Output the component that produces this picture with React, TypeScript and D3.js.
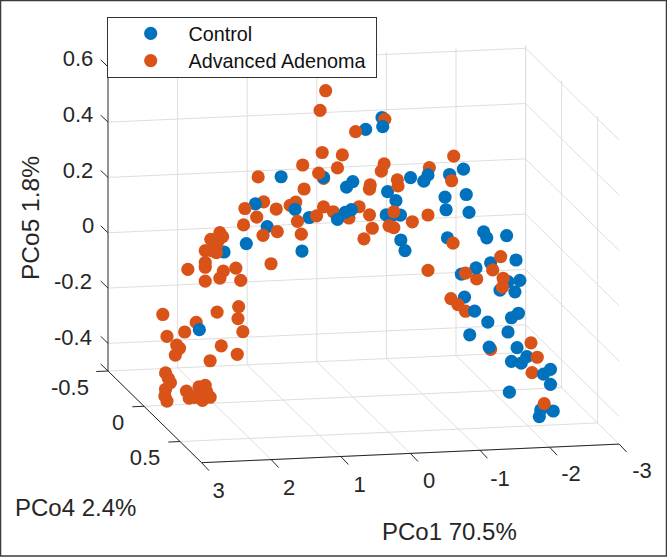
import React from "react";
import * as d3 from "d3";

// PCo1 / PCo5 values. A single projection hides PCo4, so
// every point is placed on the PCo4 = 0 plane; the layers keep the overlap order.
const controlRear: [number, number][] = [[-0.42, 0.506]];
const adenomaRear: [number, number][] = [
  [0.42, 0.295], [1.28, 0.22], [0.9, 0.203], [0.82, 0.214], [0.28, 0.173], [0.055, 0.148], [-0.09, 0.187],
  [-0.46, 0.499], [-1.1, 0.317], [-1.78, -0.093], [-1.62, -0.208], [-1.98, -0.35], [-2.575, -0.441], [2.25, -0.205],
];
const controlFront: [number, number][] = [
  [-0.185, 0.466], [-0.43, 0.473], [1.03, 0.308], [0.42, 0.299], [0, 0.279], [0.09, 0.26], [-0.5, 0.237],
  [1.4, 0.214], [0.83, 0.188], [1.23, 0.13], [1.53, 0.072], [0.73, 0.036], [0.625, 0.156], [0.22, 0.145],
  [0.11, 0.169], [0.02, 0.178], [-0.62, 0.203], [-0.48, 0.153], [-0.685, 0.15], [-0.58, 0.152], [-0.69, 0.06],
  [-0.75, 0.021], [-1.36, 0.06], [-1.325, 0.208], [-1.34, 0.162], [-1.63, 0.214], [-1.67, 0.149], [-1.56, -0.073],
  [-1.77, -0.053], [-1.605, -0.157], [-1.88, 0.076], [-1.925, 0.054], [-2.21, 0.059], [-1.59, 0.306], [-1.08, 0.291],
  [-1.02, 0.269], [-0.83, 0.284], [-1.39, 0.289], [-2.345, -0.031], [-1.98, -0.037], [-2.4, -0.105], [-2.23, -0.108],
  [-2.115, -0.137], [-2.33, -0.146], [-1.75, -0.209], [-2.38, -0.224], [-2.28, -0.239], [-1.94, -0.251], [-1.68, -0.294],
  [-2.23, -0.29], [-2.36, -0.348], [-1.96, -0.342], [-2.5, -0.382], [-2.28, -0.397], [-2.42, -0.405], [-2.84, -0.432],
  [-2.74, -0.448], [-2.84, -0.486], [-2.25, -0.508], [-2.7, -0.577], [-2.88, -0.583], [-2.68, -0.601], [1.85, 0.045],
  [2.205, -0.232],
];
const adenomaFront: [number, number][] = [
  [0.39, 0.612], [0.47, 0.542], [-0.04, 0.459], [0.44, 0.389], [0.15, 0.377], [0.72, 0.347], [0.22, 0.331], [0.49, 0.315],
  [1.36, 0.311], [-0.45, 0.338], [-0.41, 0.312], [-0.25, 0.264], [-0.24, 0.249], [0.7, 0.26], [1.55, 0.199], [1.1, 0.192],
  [1.38, 0.166], [1.57, 0.14], [1.29, 0.099], [1.085, 0.11], [0.795, 0.144], [0.74, 0.097], [1.175, -0.005], [0.42, 0.192],
  [0.52, 0.161], [-0.24, 0.156], [-0.28, 0.107], [-0.16, 0.07], [-0.52, 0.113], [-0.59, 0.106], [-0.59, 0.163], [-0.855, 0.124],
  [-1.08, 0.146], [-1.45, 0.355], [-1.42, 0.266], [-0.64, 0.278], [-0.65, 0.256], [-1.44, 0.04], [-1.08, -0.054], [-1.62, -0.07],
  [-1.41, -0.16], [-1.51, -0.183], [-2.125, -0.016], [-2.01, -0.063], [-2.16, -0.095], [-2.15, -0.127], [-2.56, -0.333],
  [-2.65, -0.386], [-2.75, -0.555],
  [1.91, 0.116], [1.87, 0.101], [2.04, 0.093], [1.93, 0.089], [2.12, 0.053], [1.955, 0.072], [2.03, 0.052], [1.96, 0.044],
  [2.37, -0.012], [2.12, 0.01], [2.12, -0.007], [2.12, -0.057], [1.86, -0.024], [1.91, -0.049], [1.68, -0.015], [1.61, -0.06],
  [2.73, -0.171], [1.95, -0.171], [1.64, -0.155], [1.65, -0.198], [2.415, -0.238], [2.67, -0.251], [1.58, -0.246], [2.53, -0.284],
  [2.49, -0.296], [2.55, -0.32], [1.89, -0.294], [1.66, -0.327], [2.05, -0.346], [2.69, -0.383], [2.65, -0.403], [2.62, -0.419],
  [2.69, -0.442], [2.7, -0.466], [2.67, -0.485], [2.39, -0.452], [2.35, -0.478], [2.12, -0.434], [2.21, -0.439], [2.2, -0.462],
  [2.27, -0.476], [2.16, -0.488], [2.05, -0.478], [2.1, -0.457],
];

const pco1Ticks = [3, 2, 1, 0, -1, -2, -3];
const pco4Ticks = [-0.5, 0, 0.5];
const pco5Ticks = [-0.4, -0.2, 0, 0.2, 0.4, 0.6];
const legendNames = ["Control", "Advanced Adenoma"];
const pco4Plane = 0;

const BLUE = "#0072BD";
const ORANGE = "#D95319";
const AXIS = "#262626";
const GRID = "#dedede";
const FONT = "'Liberation Sans', Arial, sans-serif";

// oblique projection of the 3-D box onto the page
const px = d3.scaleLinear().domain([3, -3]).range([0, 417.6]);
const pxY = d3.scaleLinear().domain([3, -3]).range([0, -18.6]);
const py = d3.scaleLinear().domain([-0.5, 0.8]).range([0, 93.6]);
const pyY = d3.scaleLinear().domain([-0.5, 0.8]).range([0, 91.7]);
const pz = d3.scaleLinear().domain([-0.5, 0.6]).range([0, -304.15]);
const project = (x: number, y: number, z: number): [number, number] => [
  108 + px(x) + py(y),
  371 + pxY(x) + pyY(y) + pz(z),
];

const X0 = 3, X1 = -3, Y0 = -0.5, Y1 = 0.8, Z0 = -0.5, Z1 = 0.61;
type L = [[number, number], [number, number]];
const seg = (l: L, stroke: string, key: string, w = 1) => (
  <line key={key} x1={l[0][0]} y1={l[0][1]} x2={l[1][0]} y2={l[1][1]} stroke={stroke} strokeWidth={w} />
);
const off = (p: [number, number], dx: number, dy: number): [number, number] => [p[0] + dx, p[1] + dy];

const gridLines: L[] = [
  ...pco1Ticks.map((x) => [project(x, Y0, Z0), project(x, Y1, Z0)] as L),
  ...pco1Ticks.map((x) => [project(x, Y0, Z0), project(x, Y0, Z1)] as L),
  ...[...pco4Ticks, Y1].map((y) => [project(X0, y, Z0), project(X1, y, Z0)] as L),
  ...pco4Ticks.map((y) => [project(X1, y, Z0), project(X1, y, Z1)] as L),
  ...pco5Ticks.map((z) => [project(X0, Y0, z), project(X1, Y0, z)] as L),
  ...pco5Ticks.map((z) => [project(X1, Y0, z), project(X1, Y1, z)] as L),
];

const xLabelPos: [number, number][] = [[218.5, 498], [289, 495], [359.5, 492], [429, 488], [500, 486], [571, 481], [642, 478]];
const yLabelPos: [number, number][] = [[70, 394.5], [118, 430], [145, 465]];
const zLabelPos: [number, number][] = [[73, 345], [73, 289], [88, 233], [78, 178], [78, 122], [78, 66]];

const dots = (pts: [number, number][], fill: string, key: string) =>
  pts.map(([a, b], i) => {
    const [cx, cy] = project(a, pco4Plane, b);
    return <circle key={key + i} cx={cx} cy={cy} r={6.6} fill={fill} />;
  });

export default function App() {
  return (
    <svg width={667} height={557} viewBox="0 0 667 557"
      style={{ position: "fixed", left: 0, top: 0, background: "#fff", display: "block" }}>
      <rect x={0.5} y={0.5} width={666} height={555.5} fill="#fff" stroke="#3a3a3a" strokeWidth={1.5} />
      {gridLines.map((l, i) => seg(l, GRID, "g" + i))}
      {seg([project(X0, Y0, Z0), project(X0, Y0, Z1)], "#555", "zaxis", 1.2)}
      {seg([project(X0, Y0, Z0), project(X0, Y1, Z0)], AXIS, "yaxis")}
      {seg([project(X0, Y1, Z0), project(X1, Y1, Z0)], AXIS, "xaxis")}
      {pco1Ticks.map((x) => {
        const p = project(x, Y1, Z0);
        return seg([p, off(p, 7.5, 8)], AXIS, "xt" + x);
      })}
      {pco4Ticks.map((y) => {
        const p = project(X0, y, Z0);
        return seg([p, off(p, -11.7, 0.5)], AXIS, "yt" + y);
      })}
      {pco5Ticks.map((z) => {
        const p = project(X0, Y0, z);
        return seg([p, off(p, -7.3, -7)], AXIS, "zt" + z);
      })}
      {seg([project(X0, Y0, Z0), off(project(X0, Y0, Z0), -7.3, -7)], AXIS, "zt0")}

      {dots(controlRear, BLUE, "cr")}
      {dots(adenomaRear, ORANGE, "ar")}
      {dots(controlFront, BLUE, "cf")}
      {dots(adenomaFront, ORANGE, "af")}

      <g fontFamily={FONT} fill={AXIS} fontSize={22} textAnchor="middle">
        {pco1Ticks.map((t, i) => <text key={t} x={xLabelPos[i][0]} y={xLabelPos[i][1]}>{String(t)}</text>)}
        {pco4Ticks.map((t, i) => <text key={t} x={yLabelPos[i][0]} y={yLabelPos[i][1]}>{String(t)}</text>)}
        {pco5Ticks.map((t, i) => <text key={t} x={zLabelPos[i][0]} y={zLabelPos[i][1]}>{String(t)}</text>)}
      </g>
      <g fontFamily={FONT} fill={AXIS} fontSize={24}>
        <text x={15} y={515.5}>PCo4 2.4%</text>
        <text x={382} y={539.5}>PCo1 70.5%</text>
        <text transform="translate(39,280) rotate(-90)" fontSize={24.5}>PCo5 1.8%</text>
      </g>

      <rect x={107.5} y={17.5} width={269} height={60} fill="#fff" stroke="#333" strokeWidth={1} />
      <circle cx={150.7} cy={33.4} r={6.6} fill={BLUE} />
      <circle cx={150.7} cy={60.6} r={6.6} fill={ORANGE} />
      <g fontFamily={FONT} fill="#111" fontSize={19.8}>
        <text x={188.5} y={41}>{legendNames[0]}</text>
        <text x={188.5} y={68}>{legendNames[1]}</text>
      </g>
    </svg>
  );
}
